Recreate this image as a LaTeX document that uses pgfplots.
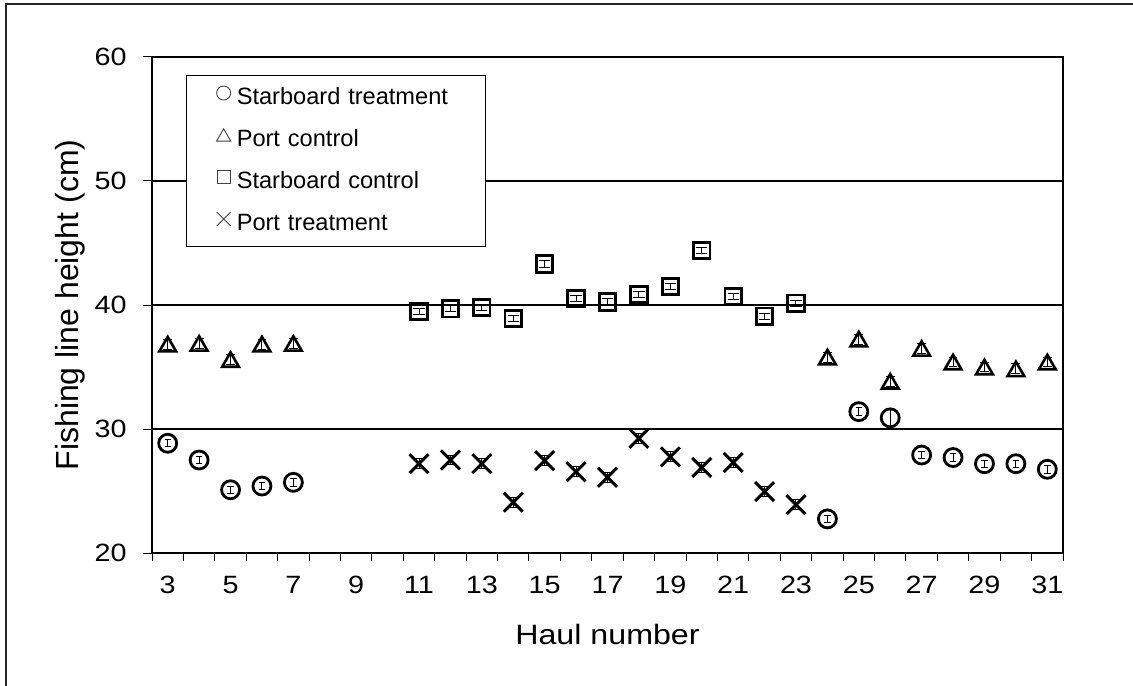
\documentclass[border=0pt]{standalone}
\usepackage{fontspec}
\setmainfont{Liberation Sans}
\newfontfamily\widesans[FakeStretch=1.15]{Liberation Sans}
\usepackage{pgfplots}
\pgfplotsset{compat=1.18}
\usepackage{pgfplotstable}

% haul, mean height (cm), error
\pgfplotstableread{
x y e
3 28.85 0.3
4 27.5 0.3
5 25.1 0.3
6 25.4 0.3
7 25.7 0.3
24 22.75 0.3
25 31.4 0.3
26 30.9 0.75
27 27.9 0.3
28 27.7 0.3
29 27.2 0.3
30 27.2 0.3
31 26.75 0.3
}\sbtreat
\pgfplotstableread{
x y e
3 36.85 0.4
4 36.9 0.4
5 35.6 0.4
6 36.85 0.4
7 36.9 0.4
24 35.8 0.4
25 37.25 0.4
26 33.85 0.4
27 36.5 0.4
28 35.4 0.4
29 35.0 0.4
30 34.85 0.4
31 35.4 0.4
}\portctrl
\pgfplotstableread{
x y e
11 39.5 0.25
12 39.7 0.25
13 39.8 0.25
14 38.9 0.25
15 43.3 0.25
16 40.5 0.25
17 40.25 0.25
18 40.85 0.25
19 41.5 0.25
20 44.4 0.25
21 40.7 0.25
22 39.1 0.25
23 40.15 0.25
}\sbctrl
\pgfplotstableread{
x y e
11 27.2 0.4
12 27.5 0.4
13 27.2 0.4
14 24.1 0.4
15 27.45 0.4
16 26.55 0.4
17 26.1 0.4
18 29.25 0.4
19 27.75 0.4
20 26.9 0.4
21 27.3 0.4
22 24.95 0.4
23 23.9 0.4
}\porttreat

\begin{document}
\begin{tikzpicture}
\useasboundingbox (0,0) rectangle (566.5pt,342.5pt);
\draw[line width=0.7pt, black!85] (3pt,-2pt) -- (3pt,340.5pt) -- (570pt,340.5pt);
\begin{axis}[
    at={(76pt,66pt)}, anchor=south west,
    scale only axis, width=455.5pt, height=248pt,
    xmin=2.5, xmax=31.5, ymin=20, ymax=60,
    xtick={3,5,...,31},
    minor xtick={2.5,3.5,...,31.5},
    ytick={20,30,...,60},
    tick align=outside, tick pos=left,
    major x tick style={draw=none},
    minor x tick style={line width=0.5pt, black},
    major y tick style={line width=0.5pt, black},
    minor tick length=4pt, major tick length=4.5pt,
    ymajorgrids, grid style={line width=0.65pt, black},
    axis line style={line width=1.1pt},
    /pgf/number format/assume math mode=true,
    tick label style={font=\widesans\fontsize{12.5}{14}\selectfont, inner sep=0pt},
    yticklabel style={anchor=east, xshift=-8pt},
    xticklabel style={anchor=north, yshift=-7pt},
    xlabel={Haul number},
    ylabel={Fishing line height (cm)},
    xlabel style={at={(axis description cs:0.5,-0.1835)}, anchor=base,
                  font=\widesans\fontsize{14}{16}\selectfont},
    ylabel style={at={(axis description cs:-0.081,0.5)}, anchor=base, rotate=0,
                  font=\fontsize{16}{18}\selectfont},
    legend cell align=left,
    legend style={at={(axis description cs:0.0373,0.9637)}, anchor=north west,
        draw=black, line width=0.6pt, inner xsep=15pt, inner ysep=4.7pt,
        row sep=8pt, column sep=2pt,
        font=\fontsize{11.8}{14}\selectfont,
        nodes={inner sep=1pt, text height=8.5pt, text depth=2.5pt,
               text width=108.5pt, align=left}},
]
\addplot[black, only marks, mark=o, mark size=4.5pt,
    mark options={line width=1.4pt, solid},
    legend image code/.code={\draw[black!75, mark options={line width=0.45pt, black!75}]
        plot[mark=o, mark size=3.5pt] coordinates {(0pt,2.5pt)};},
    error bars/.cd, y dir=both, y explicit,
    error bar style={line width=0.5pt, black},
    error mark options={rotate=90, mark size=1.6pt, line width=0.5pt, black}]
    table[x=x, y=y, y error=e] {\sbtreat};
\addlegendentry{Starboard treatment}
\addplot[black, only marks, mark=triangle, mark size=4.8pt,
    mark options={line width=1.3pt, solid, yshift=-1.2pt},
    legend image code/.code={\draw[black!75, mark options={line width=0.45pt, black!75}]
        plot[mark=triangle, mark size=4.1pt] coordinates {(0pt,1.5pt)};},
    error bars/.cd, y dir=both, y explicit,
    error bar style={line width=0.5pt, black},
    error mark options={rotate=90, mark size=2.2pt, line width=0.5pt, black}]
    table[x=x, y=y, y error=e] {\portctrl};
\addlegendentry{Port control}
\addplot[black, only marks, mark=square, mark size=4.1pt,
    mark options={line width=1.4pt, solid},
    legend image code/.code={\draw[black!75, mark options={line width=0.45pt, black!75}]
        plot[mark=square, mark size=3.3pt] coordinates {(0pt,2.5pt)};},
    error bars/.cd, y dir=both, y explicit,
    error bar style={line width=0.5pt, black},
    error mark options={rotate=90, mark size=2.8pt, line width=0.5pt, black}]
    table[x=x, y=y, y error=e] {\sbctrl};
\addlegendentry{Starboard control}
\addplot[black, only marks, mark=x, mark size=6.7pt,
    mark options={line width=1.5pt, solid},
    legend image code/.code={\draw[black!75, mark options={line width=0.45pt, black!75}]
        plot[mark=x, mark size=4.9pt] coordinates {(0pt,2.5pt)};},
    error bars/.cd, y dir=both, y explicit,
    error bar style={line width=0.5pt, black},
    error mark options={rotate=90, mark size=1.8pt, line width=0.5pt, black}]
    table[x=x, y=y, y error=e] {\porttreat};
\addlegendentry{Port treatment}
\end{axis}
\end{tikzpicture}
\end{document}
